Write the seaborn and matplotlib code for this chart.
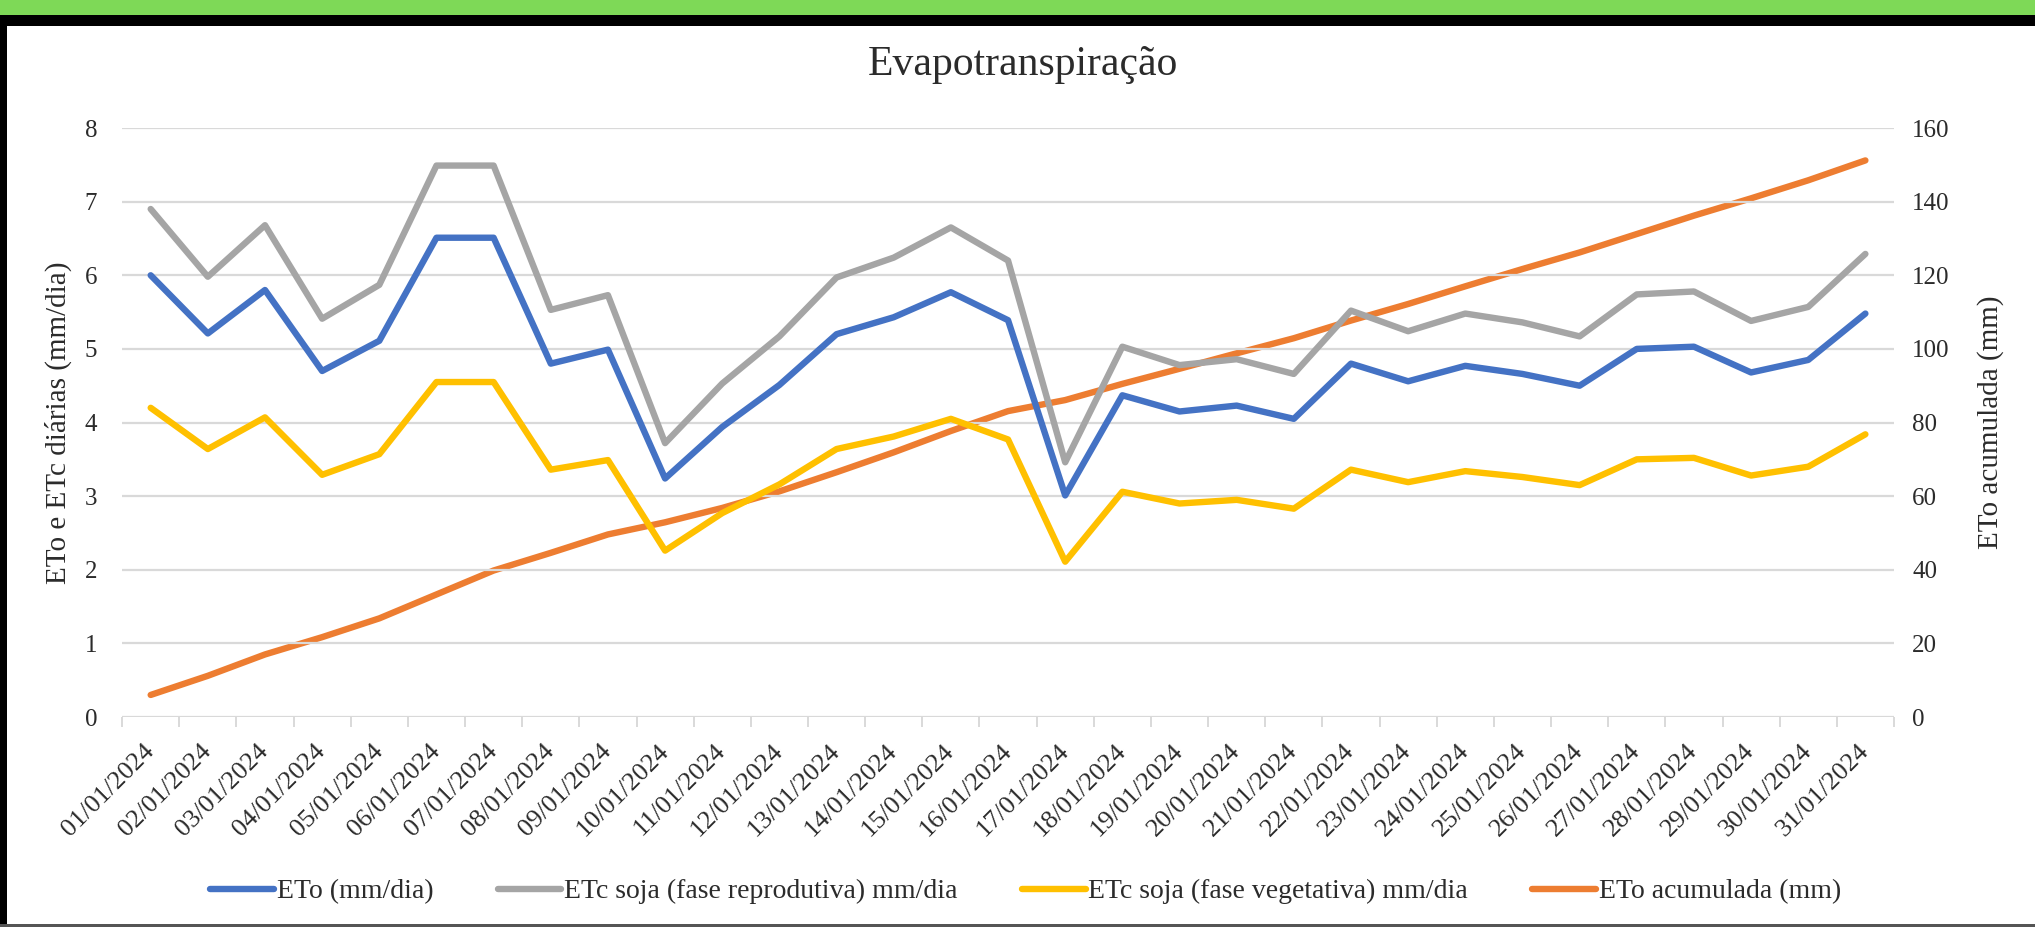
import numpy as np
import pandas as pd
import matplotlib
matplotlib.use("Agg")
import matplotlib.pyplot as plt
from matplotlib.patches import Rectangle
import seaborn as sns

datas = ["01/01/2024", "02/01/2024", "03/01/2024", "04/01/2024", "05/01/2024", "06/01/2024",
         "07/01/2024", "08/01/2024", "09/01/2024", "10/01/2024", "11/01/2024", "12/01/2024",
         "13/01/2024", "14/01/2024", "15/01/2024", "16/01/2024", "17/01/2024", "18/01/2024",
         "19/01/2024", "20/01/2024", "21/01/2024", "22/01/2024", "23/01/2024", "24/01/2024",
         "25/01/2024", "26/01/2024", "27/01/2024", "28/01/2024", "29/01/2024", "30/01/2024",
         "31/01/2024"]

eto = [6.00, 5.21, 5.80, 4.70, 5.11, 6.51, 6.51, 4.80, 4.99, 3.24, 3.94, 4.51, 5.20, 5.43, 5.77,
       5.39, 3.01, 4.37, 4.15, 4.23, 4.05, 4.80, 4.56, 4.77, 4.66, 4.50, 5.00, 5.03, 4.68, 4.85, 5.48]

etc_reprodutiva = [6.90, 5.98, 6.68, 5.41, 5.87, 7.49, 7.49, 5.53, 5.73, 3.72, 4.53, 5.17, 5.97,
                   6.24, 6.65, 6.20, 3.46, 5.03, 4.78, 4.86, 4.66, 5.52, 5.24, 5.48, 5.36, 5.17,
                   5.74, 5.78, 5.38, 5.57, 6.29]

etc_vegetativa = [4.20, 3.64, 4.07, 3.29, 3.57, 4.55, 4.55, 3.36, 3.49, 2.26, 2.77, 3.16, 3.64,
                  3.81, 4.05, 3.77, 2.11, 3.06, 2.90, 2.95, 2.83, 3.36, 3.19, 3.34, 3.26, 3.15,
                  3.50, 3.52, 3.28, 3.40, 3.84]

eto_acumulada = [6.0, 11.2, 17.0, 21.7, 26.8, 33.3, 39.8, 44.6, 49.6, 52.9, 56.8, 61.3, 66.5,
                 71.9, 77.7, 83.1, 86.1, 90.5, 94.6, 98.8, 102.9, 107.7, 112.2, 117.0, 121.7,
                 126.2, 131.2, 136.2, 140.9, 145.8, 151.2]

df = pd.DataFrame({
    "data": datas,
    "ETo (mm/dia)": eto,
    "ETc soja (fase reprodutiva) mm/dia": etc_reprodutiva,
    "ETc soja (fase vegetativa) mm/dia": etc_vegetativa,
    "ETo acumulada (mm)": eto_acumulada,
})

sns.set_theme(style="white")
plt.rcParams["font.family"] = ["Liberation Serif", "DejaVu Serif"]
TXT = "#2b2b2b"
GRID = "#d9d9d9"

fig = plt.figure(figsize=(20.35, 9.27), dpi=100)
fig.patch.set_facecolor("white")
ax = fig.add_axes([0.0600, 0.2265, 0.8707, 0.6354])
ax2 = ax.twinx()

LW = 4.6
cols = {
    "ETo (mm/dia)": "#4472C4",
    "ETc soja (fase reprodutiva) mm/dia": "#A5A5A5",
    "ETc soja (fase vegetativa) mm/dia": "#FFC000",
}
for name, c in cols.items():
    sns.lineplot(data=df, x="data", y=name, ax=ax, color=c, linewidth=LW,
                 sort=False, label=name, legend=False,
                 solid_capstyle="round", solid_joinstyle="round")
sns.lineplot(data=df, x="data", y="ETo acumulada (mm)", ax=ax2, color="#ED7D31",
             linewidth=LW, sort=False, label="ETo acumulada (mm)", legend=False,
             solid_capstyle="round", solid_joinstyle="round")

n = len(datas)
for a in (ax, ax2):
    a.set_xlim(-0.5, n - 0.5)
    for s in a.spines.values():
        s.set_visible(False)
ax.set_ylim(0, 8)
ax2.set_ylim(0, 160)
ax.set_yticks(range(0, 9))
ax2.set_yticks(range(0, 161, 20))
ax.grid(axis="y", color=GRID, linewidth=1.6)
ax.grid(axis="x", visible=False)
ax2.grid(False)
ax.set_zorder(ax2.get_zorder() + 1)
ax.patch.set_visible(False)

ax.set_xticks(range(n))
ax.set_xticklabels(datas, rotation=45, ha="right", va="center",
                   rotation_mode="anchor", fontsize=19, color=TXT)
ax.set_xticks(np.arange(-0.5, n, 1.0), minor=True)
ax.tick_params(axis="x", which="major", length=0, pad=22)
ax.tick_params(axis="x", which="minor", length=7, width=1.4, color=GRID, bottom=True)
ax.tick_params(axis="y", length=0, pad=18, labelsize=18, labelcolor=TXT)
ax2.tick_params(axis="y", length=0, pad=13, labelsize=18, labelcolor=TXT)
ax.set_xlabel("")
ax.set_ylabel("ETo e ETc diárias (mm/dia)", fontsize=21, color=TXT, labelpad=9)
ax2.set_ylabel("ETo acumulada (mm)", fontsize=21, color=TXT, labelpad=20)

fig.text(0.5025, 0.930, "Evapotranspiração", ha="center", va="center",
         fontsize=30, color=TXT)

h1, l1 = ax.get_legend_handles_labels()
h2, l2 = ax2.get_legend_handles_labels()
leg = fig.legend(h1 + h2, l1 + l2, loc="center", bbox_to_anchor=(0.504, 0.038),
                 ncol=4, frameon=False, fontsize=20, handlelength=2.3,
                 handletextpad=0.1, columnspacing=2.3)
for t in leg.get_texts():
    t.set_color(TXT)

# frame decorations
fig.patches.append(Rectangle((0, 1 - 15 / 927), 1, 15 / 927, transform=fig.transFigure,
                             facecolor="#7ED957", edgecolor="none", zorder=10))
fig.patches.append(Rectangle((0, 1 - 26 / 927), 1, 11 / 927, transform=fig.transFigure,
                             facecolor="black", edgecolor="none", zorder=10))
fig.patches.append(Rectangle((0, 0), 7 / 2035, 1 - 15 / 927, transform=fig.transFigure,
                             facecolor="black", edgecolor="none", zorder=10))
fig.patches.append(Rectangle((0, 0), 1, 3 / 927, transform=fig.transFigure,
                             facecolor="#555555", edgecolor="none", zorder=10))

fig.savefig("out.png", dpi=100)
